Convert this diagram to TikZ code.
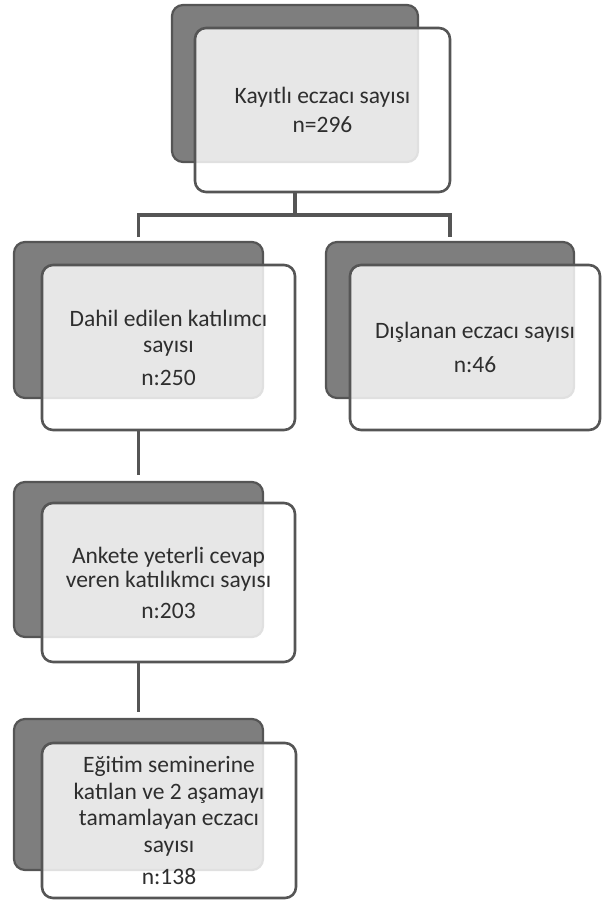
\documentclass[tikz,border=0pt]{standalone}
\usepackage{fontspec}
\setmainfont{Carlito}
\definecolor{shadowfill}{HTML}{7E7E7E}
\definecolor{edge}{HTML}{555555}
\definecolor{txt}{HTML}{2E2E2E}
\tikzset{
  shadowbox/.style={draw=edge, line width=2.2pt, fill=shadowfill, rounded corners=11pt, inner sep=0pt, outer sep=0pt},
  frontbox/.style={draw=edge, line width=2.6pt, fill=white, fill opacity=0.82, text opacity=1, draw opacity=1,
    rounded corners=11pt, inner sep=0pt, outer sep=0pt, align=center, text=txt,
    font=\fontsize{23.5pt}{26.5pt}\selectfont},
  conn/.style={draw=edge, line width=3.2pt}
}
\begin{document}
\begin{tikzpicture}[x=1pt,y=-1pt]
\useasboundingbox (0,0) rectangle (602,907);
% top
\node[shadowbox, minimum width=246pt, minimum height=157pt] (s1) at (295,83.5) {};
\node[frontbox, minimum width=255pt, minimum height=164pt] (f1) at (322.5,110) {Kayıtlı eczacı sayısı\\[3pt]n=296};
% second row left
\node[shadowbox, minimum width=249pt, minimum height=156pt] (s2) at (138.5,320) {};
\node[frontbox, minimum width=253pt, minimum height=165pt] (f2) at (168.5,347.5) {Dahil edilen katılımcı\\sayısı\\[6pt]n:250};
% second row right
\node[shadowbox, minimum width=248pt, minimum height=156pt] (s5) at (450,320) {};
\node[frontbox, minimum width=250pt, minimum height=165pt] (f5) at (475,347.5) {Dışlanan eczacı sayısı\\[8pt]n:46};
% third
\node[shadowbox, minimum width=249pt, minimum height=155pt] (s3) at (138.5,559.5) {};
\node[frontbox, minimum width=253pt, minimum height=159pt] (f3) at (168.5,582.5) {Ankete yeterli cevap\\[-2pt]veren katılıkmcı sayısı\\[4pt]n:203};
% fourth
\node[shadowbox, minimum width=249pt, minimum height=151pt] (s4) at (138.5,794.5) {};
\node[frontbox, minimum width=254pt, minimum height=155pt] (f4) at (169,820.5) {Eğitim seminerine\\katılan ve 2 aşamayı\\tamamlayan eczacı\\sayısı\\[6pt]n:138};
% connectors
\draw[conn] (s1.center |- f1.south) -- ++(0,23) coordinate (j);
\draw[conn] ([yshift=5pt]s2.north) |- (j) -| ([yshift=5pt]s5.north);
\draw[conn] (s2.center |- f2.south) -- ([yshift=7pt]s3.north);
\draw[conn] (s3.center |- f3.south) -- ([yshift=7pt]s4.north);
\end{tikzpicture}
\end{document}
